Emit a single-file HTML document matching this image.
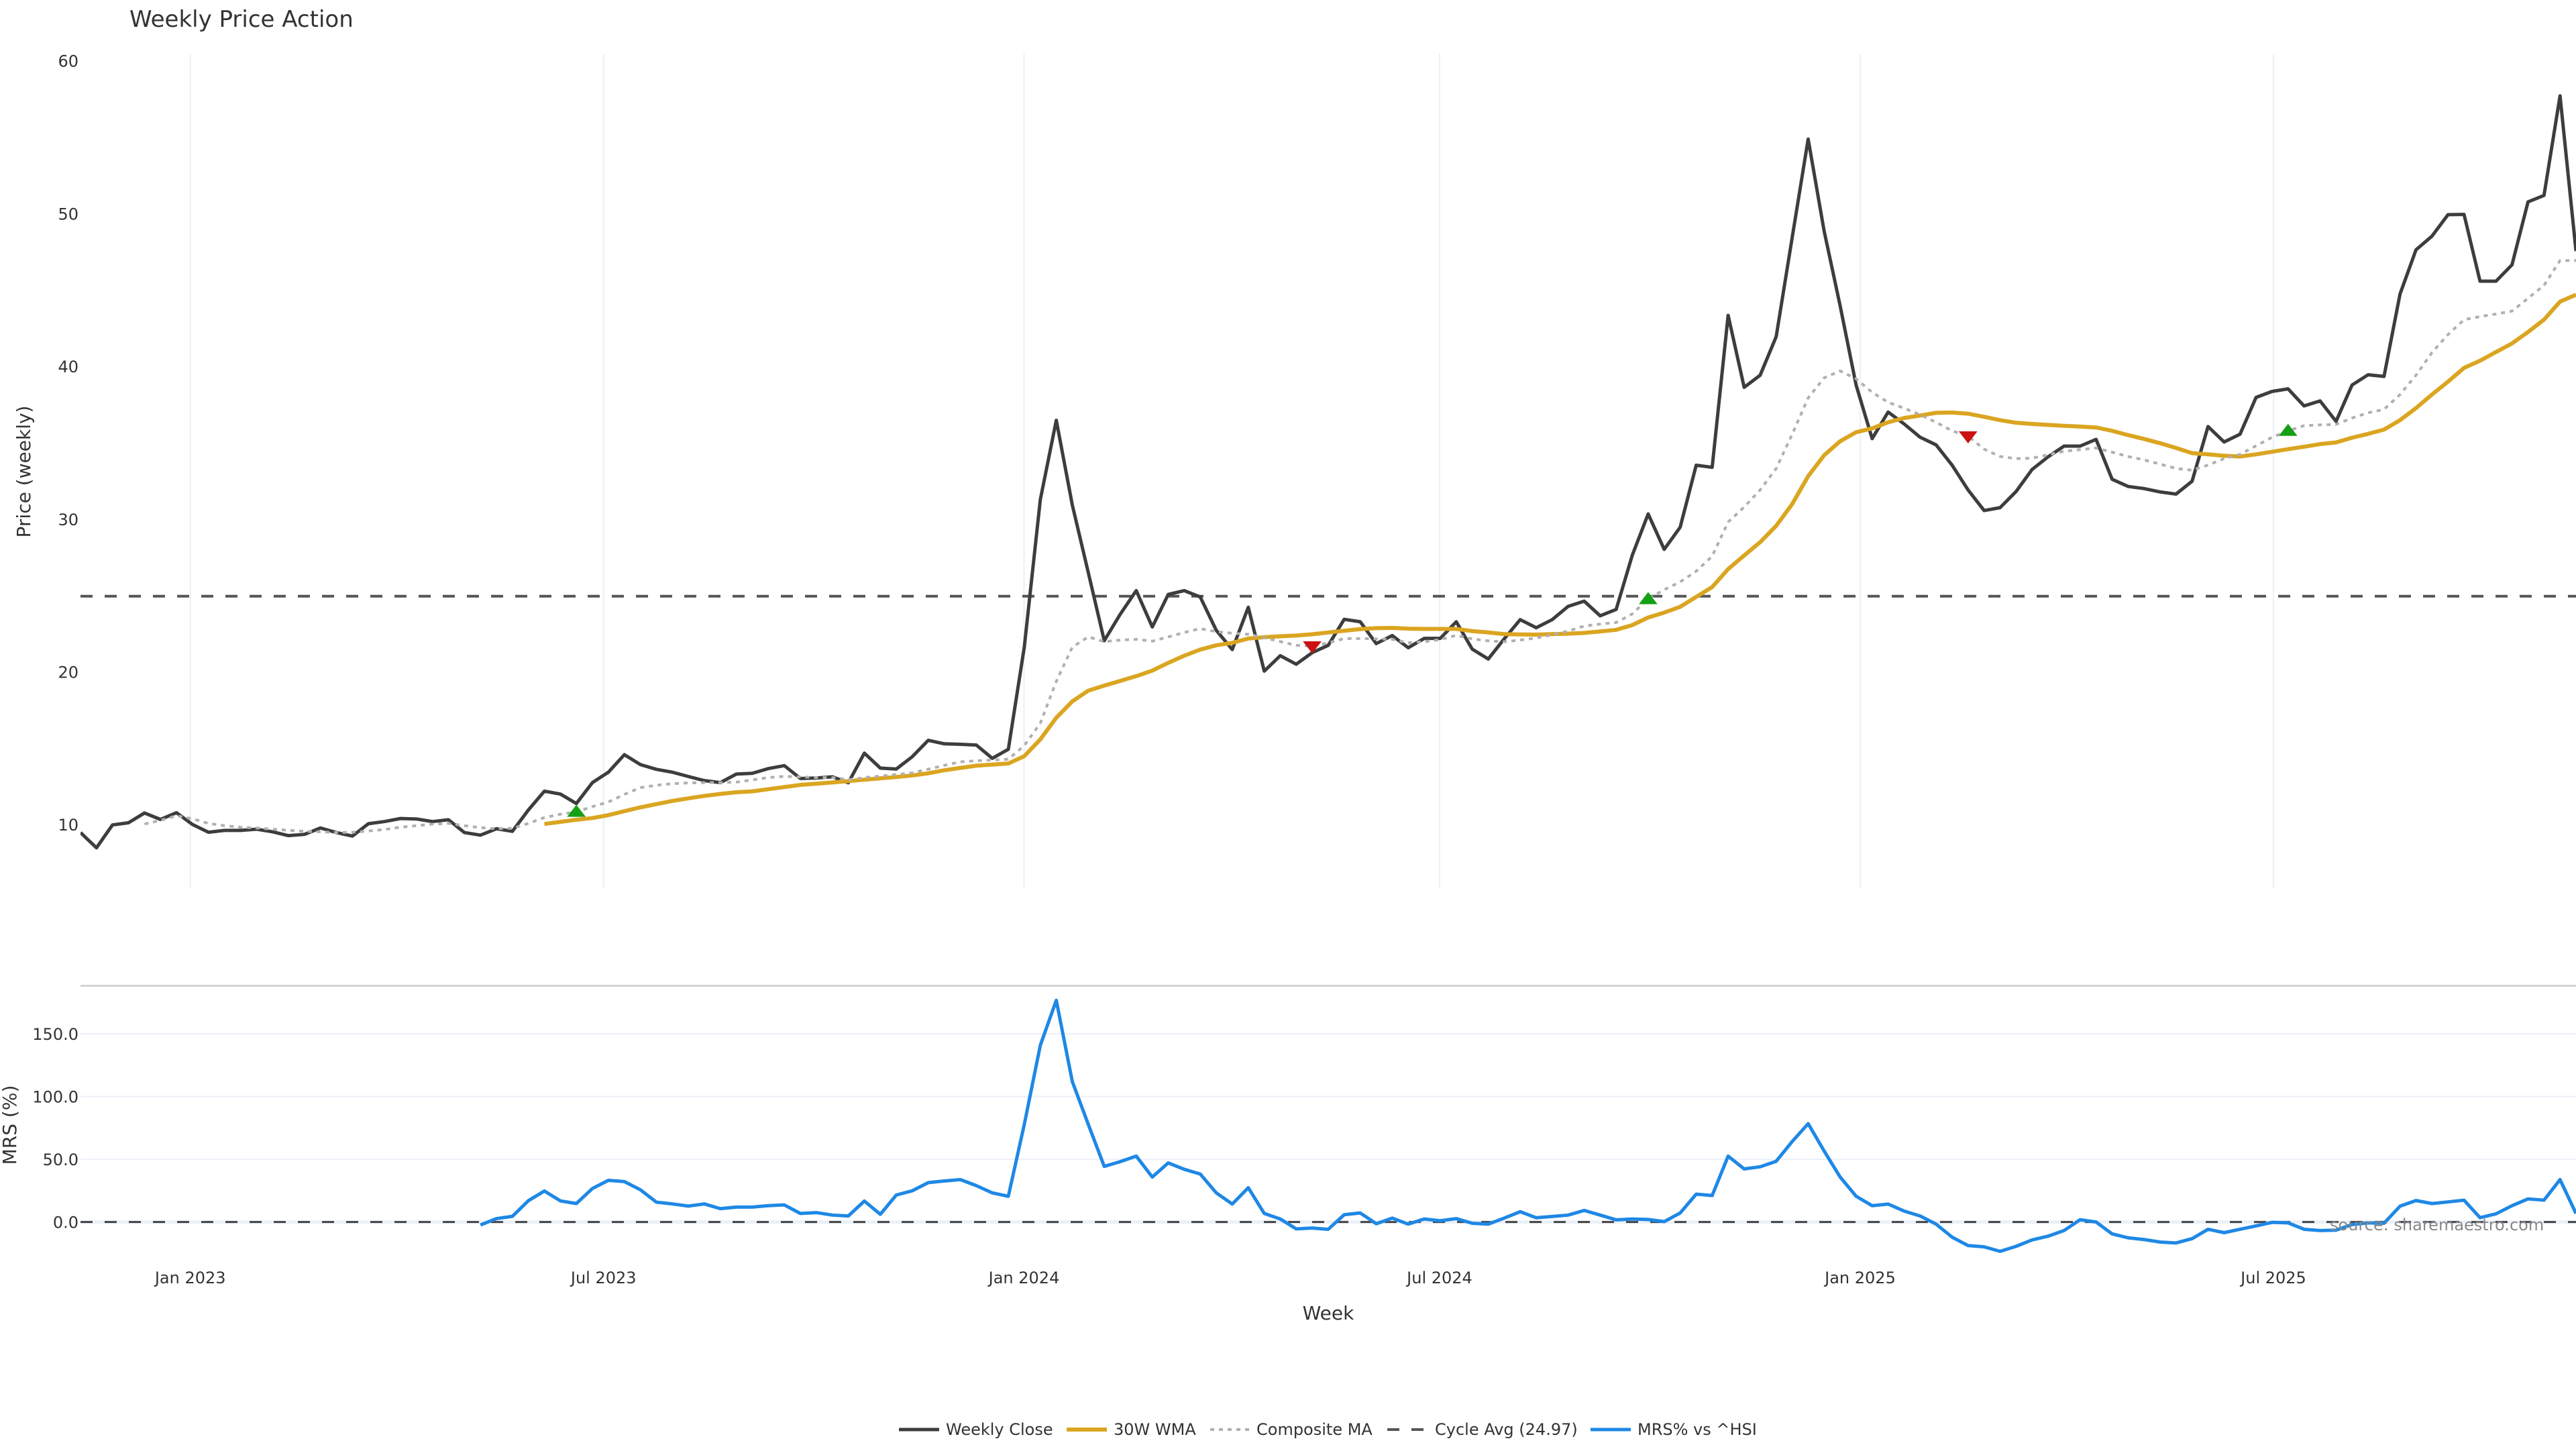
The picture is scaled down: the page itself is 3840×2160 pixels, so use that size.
<!DOCTYPE html>
<html>
<head>
<meta charset="utf-8">
<style>
html,body{margin:0;padding:0;background:#fff;}
svg{display:block;}
text{font-family:"DejaVu Sans","Liberation Sans",sans-serif;fill:#333;}
</style>
</head>
<body>
<svg width="3840" height="2160" viewBox="0 0 3840 2160" xmlns="http://www.w3.org/2000/svg">
<defs>
<clipPath id="cu"><rect x="120" y="80" width="3720" height="1244"/></clipPath>
<clipPath id="cl"><rect x="120" y="1470" width="3720" height="410"/></clipPath>
</defs>
<rect x="0" y="0" width="3840" height="2160" fill="#fff"/>

<!-- title -->
<text x="193" y="40" style="font-size:34px">Weekly Price Action</text>

<!-- upper vertical gridlines -->
<g stroke="#ebf0f8" stroke-width="2">
<line x1="283.7" y1="80" x2="283.7" y2="1324"/>
<line x1="899.7" y1="80" x2="899.7" y2="1324"/>
<line x1="1526.5" y1="80" x2="1526.5" y2="1324"/>
<line x1="2146" y1="80" x2="2146" y2="1324"/>
<line x1="2773" y1="80" x2="2773" y2="1324"/>
<line x1="3389" y1="80" x2="3389" y2="1324"/>
</g>

<!-- upper y tick labels -->
<g style="font-size:24px" text-anchor="end">
<text x="117" y="99.7">60</text>
<text x="117" y="327.4">50</text>
<text x="117" y="555.1">40</text>
<text x="117" y="782.8">30</text>
<text x="117" y="1010.5">20</text>
<text x="117" y="1238.2">10</text>
</g>
<text transform="translate(45,703) rotate(-90)" text-anchor="middle" style="font-size:28px">Price (weekly)</text>

<!-- cycle avg dashed -->
<line x1="120" y1="888.8" x2="3840" y2="888.8" stroke="#555" stroke-width="4" stroke-dasharray="18 18"/>

<g clip-path="url(#cu)" fill="none" stroke-linejoin="round">
<g transform="matrix(1 0 0 -22.77 0 1457.4)">
<!-- weekly close -->
<polyline vector-effect="non-scaling-stroke" stroke="#3d3d3d" stroke-width="5" points="120,9.5 143.8,8.5 167.7,10 191.5,10.14 215.4,10.78 239.2,10.36 263.1,10.8 286.9,10.03 310.8,9.52 334.6,9.64 358.5,9.64 382.3,9.72 406.2,9.55 430,9.3 453.8,9.38 477.7,9.8 501.5,9.5 525.4,9.27 549.2,10.08 573.1,10.22 596.9,10.42 620.8,10.39 644.6,10.22 668.5,10.34 692.3,9.5 716.2,9.33 740,9.75 763.8,9.58 787.7,10.98 811.5,12.21 835.4,12.02 859.2,11.4 883.1,12.77 906.9,13.45 930.8,14.6 954.6,13.95 978.5,13.64 1002.3,13.45 1026.1,13.17 1050,12.9 1073.8,12.77 1097.7,13.33 1121.5,13.38 1145.4,13.69 1169.2,13.88 1193.1,13.04 1216.9,13.07 1240.8,13.15 1264.6,12.76 1288.5,14.7 1312.3,13.72 1336.1,13.66 1360,14.47 1383.8,15.54 1407.7,15.31 1431.5,15.28 1455.4,15.23 1479.2,14.36 1503.1,14.95 1526.9,21.64 1550.8,31.3 1574.6,36.49 1598.5,30.94 1622.3,26.52 1646.1,22.06 1670,23.8 1693.8,25.34 1717.7,22.96 1741.5,25.09 1765.4,25.34 1789.2,24.92 1813.1,22.74 1836.9,21.48 1860.8,24.25 1884.6,20.07 1908.5,21.08 1932.3,20.52 1956.1,21.28 1980,21.76 2003.8,23.46 2027.7,23.3 2051.5,21.87 2075.4,22.4 2099.2,21.6 2123.1,22.21 2146.9,22.21 2170.8,23.3 2194.6,21.51 2218.5,20.86 2242.3,22.18 2266.1,23.44 2290,22.91 2313.8,23.44 2337.7,24.31 2361.5,24.65 2385.4,23.69 2409.2,24.11 2433.1,27.64 2456.9,30.36 2480.8,28.04 2504.6,29.49 2528.5,33.55 2552.3,33.41 2576.1,43.36 2600,38.65 2623.8,39.44 2647.7,41.96 2671.5,48.43 2695.4,54.9 2719.2,48.88 2743.1,43.98 2766.9,38.79 2790.8,35.29 2814.6,37.03 2838.5,36.25 2862.3,35.38 2886.1,34.88 2910,33.55 2933.8,31.93 2957.7,30.58 2981.5,30.77 3005.4,31.83 3029.2,33.27 3053.1,34.1 3076.9,34.8 3100.8,34.8 3124.6,35.24 3148.5,32.63 3172.3,32.16 3196.1,32.02 3220,31.8 3243.8,31.66 3267.7,32.5 3291.5,36.08 3315.4,35.07 3339.2,35.58 3363.1,37.99 3386.9,38.38 3410.8,38.55 3434.6,37.43 3458.5,37.76 3482.3,36.42 3506.2,38.8 3530,39.47 3553.8,39.36 3577.7,44.76 3601.5,47.65 3625.4,48.55 3649.2,49.95 3673.1,49.97 3696.9,45.6 3720.8,45.6 3744.6,46.67 3768.5,50.79 3792.3,51.21 3816.2,57.73 3840,47.57"/>
<!-- 30W WMA -->
<polyline vector-effect="non-scaling-stroke" stroke="#DAA520" stroke-width="6" points="811.5,10.06 835.4,10.2 859.2,10.34 883.1,10.45 906.9,10.64 930.8,10.9 954.6,11.15 978.5,11.36 1002.3,11.57 1026.1,11.74 1050,11.9 1073.8,12.03 1097.7,12.14 1121.5,12.2 1145.4,12.34 1169.2,12.48 1193.1,12.62 1216.9,12.7 1240.8,12.78 1264.6,12.87 1288.5,12.96 1312.3,13.05 1336.1,13.14 1360,13.24 1383.8,13.38 1407.7,13.58 1431.5,13.73 1455.4,13.88 1479.2,13.95 1503.1,14.02 1526.9,14.5 1550.8,15.6 1574.6,17.02 1598.5,18.09 1622.3,18.79 1646.1,19.12 1670,19.43 1693.8,19.74 1717.7,20.1 1741.5,20.61 1765.4,21.08 1789.2,21.48 1813.1,21.76 1836.9,21.92 1860.8,22.2 1884.6,22.29 1908.5,22.35 1932.3,22.4 1956.1,22.48 1980,22.6 2003.8,22.71 2027.7,22.82 2051.5,22.88 2075.4,22.9 2099.2,22.85 2123.1,22.83 2146.9,22.83 2170.8,22.83 2194.6,22.69 2218.5,22.6 2242.3,22.49 2266.1,22.47 2290,22.46 2313.8,22.49 2337.7,22.52 2361.5,22.57 2385.4,22.67 2409.2,22.77 2433.1,23.08 2456.9,23.58 2480.8,23.9 2504.6,24.28 2528.5,24.93 2552.3,25.57 2576.1,26.75 2600,27.64 2623.8,28.51 2647.7,29.58 2671.5,31 2695.4,32.83 2719.2,34.2 2743.1,35.12 2766.9,35.71 2790.8,35.96 2814.6,36.36 2838.5,36.64 2862.3,36.8 2886.1,36.98 2910,37 2933.8,36.92 2957.7,36.72 2981.5,36.5 3005.4,36.33 3029.2,36.25 3053.1,36.19 3076.9,36.13 3100.8,36.08 3124.6,36.02 3148.5,35.8 3172.3,35.52 3196.1,35.27 3220,34.99 3243.8,34.68 3267.7,34.34 3291.5,34.26 3315.4,34.17 3339.2,34.12 3363.1,34.26 3386.9,34.43 3410.8,34.6 3434.6,34.76 3458.5,34.93 3482.3,35.04 3506.2,35.35 3530,35.6 3553.8,35.88 3577.7,36.5 3601.5,37.29 3625.4,38.18 3649.2,39.02 3673.1,39.92 3696.9,40.39 3720.8,40.96 3744.6,41.52 3768.5,42.27 3792.3,43.08 3816.2,44.26 3840,44.71"/>
<!-- Composite MA -->
<polyline vector-effect="non-scaling-stroke" stroke="#b0b0b0" stroke-width="4" stroke-dasharray="6 7" points="215.4,10.06 239.2,10.3 263.1,10.6 286.9,10.4 310.8,10.1 334.6,9.95 358.5,9.85 382.3,9.8 406.2,9.72 430,9.65 453.8,9.58 477.7,9.55 501.5,9.5 525.4,9.52 549.2,9.6 573.1,9.7 596.9,9.85 620.8,9.95 644.6,10.05 668.5,10.1 692.3,9.95 716.2,9.82 740,9.75 763.8,9.78 787.7,10.1 811.5,10.48 835.4,10.7 859.2,10.85 883.1,11.2 906.9,11.5 930.8,12 954.6,12.44 978.5,12.6 1002.3,12.7 1026.1,12.75 1050,12.77 1073.8,12.77 1097.7,12.8 1121.5,12.95 1145.4,13.1 1169.2,13.18 1193.1,13.15 1216.9,13.1 1240.8,13.1 1264.6,12.96 1288.5,13.1 1312.3,13.2 1336.1,13.3 1360,13.41 1383.8,13.65 1407.7,13.9 1431.5,14.13 1455.4,14.2 1479.2,14.25 1503.1,14.3 1526.9,15.2 1550.8,16.66 1574.6,19.4 1598.5,21.64 1622.3,22.31 1646.1,22 1670,22.1 1693.8,22.15 1717.7,22.03 1741.5,22.31 1765.4,22.6 1789.2,22.85 1813.1,22.65 1836.9,22.55 1860.8,22.48 1884.6,22.26 1908.5,22 1932.3,21.76 1956.1,21.7 1980,21.92 2003.8,22.2 2027.7,22.2 2051.5,22.18 2075.4,22.15 2099.2,21.92 2123.1,22 2146.9,22.13 2170.8,22.41 2194.6,22.18 2218.5,22.05 2242.3,21.99 2266.1,22.1 2290,22.24 2313.8,22.45 2337.7,22.69 2361.5,23.02 2385.4,23.15 2409.2,23.25 2433.1,23.81 2456.9,24.8 2480.8,25.4 2504.6,25.91 2528.5,26.61 2552.3,27.59 2576.1,29.83 2600,30.81 2623.8,31.93 2647.7,33.33 2671.5,35.57 2695.4,37.95 2719.2,39.27 2743.1,39.72 2766.9,39.21 2790.8,38.32 2814.6,37.67 2838.5,37.28 2862.3,36.86 2886.1,36.36 2910,35.8 2933.8,35.45 2957.7,34.6 2981.5,34.12 3005.4,33.98 3029.2,34.01 3053.1,34.23 3076.9,34.46 3100.8,34.57 3124.6,34.68 3148.5,34.4 3172.3,34.12 3196.1,33.9 3220,33.62 3243.8,33.34 3267.7,33.22 3291.5,33.56 3315.4,33.98 3339.2,34.26 3363.1,34.82 3386.9,35.38 3410.8,35.8 3434.6,36.14 3458.5,36.19 3482.3,36.22 3506.2,36.64 3530,36.98 3553.8,37.2 3577.7,38.18 3601.5,39.44 3625.4,40.93 3649.2,42.1 3673.1,43.08 3696.9,43.28 3720.8,43.45 3744.6,43.64 3768.5,44.48 3792.3,45.32 3816.2,46.95 3840,46.95"/>
</g>
</g>

<!-- markers -->
<polygon points="845.3,1217.6 873.1,1217.6 859.2,1199.6" fill="#14a014"/>
<polygon points="1942.2,956 1970,956 1956.1,974" fill="#cc1111"/>
<polygon points="2443,900.6 2470.8,900.6 2456.9,882.6" fill="#14a014"/>
<polygon points="2919.9,643 2947.7,643 2933.8,661" fill="#cc1111"/>
<polygon points="3396.9,649.7 3424.7,649.7 3410.8,631.7" fill="#14a014"/>

<!-- separator -->
<line x1="120" y1="1469.5" x2="3840" y2="1469.5" stroke="#d4d4d4" stroke-width="3"/>

<!-- lower gridlines -->
<g stroke="#ebf0f8" stroke-width="2">
<line x1="120" y1="1541.1" x2="3840" y2="1541.1"/>
<line x1="120" y1="1634.6" x2="3840" y2="1634.6"/>
<line x1="120" y1="1728.1" x2="3840" y2="1728.1"/>
</g>
<line x1="120" y1="1821.6" x2="3840" y2="1821.6" stroke="#ebf0f8" stroke-width="5"/>
<line x1="120" y1="1821.6" x2="3840" y2="1821.6" stroke="#444" stroke-width="3" stroke-dasharray="18 18"/>

<!-- lower y ticks -->
<g style="font-size:24px" text-anchor="end">
<text x="117" y="1549.8">150.0</text>
<text x="117" y="1643.3">100.0</text>
<text x="117" y="1736.8">50.0</text>
<text x="117" y="1830.3">0.0</text>
</g>
<text transform="translate(24,1677) rotate(-90)" text-anchor="middle" style="font-size:28px">MRS (%)</text>

<!-- MRS line -->
<g clip-path="url(#cl)" fill="none" stroke-linejoin="round">
<g transform="matrix(1 0 0 -1.87 0 1821.6)">
<polyline vector-effect="non-scaling-stroke" stroke="#1E88E5" stroke-width="5" points="716.2,-2.4 740,2.7 763.8,4.5 787.7,17 811.5,24.7 835.4,16.8 859.2,14.7 883.1,26.7 906.9,33.2 930.8,32.2 954.6,25.7 978.5,15.8 1002.3,14.4 1026.1,12.7 1050,14.4 1073.8,10.6 1097.7,11.9 1121.5,11.9 1145.4,13 1169.2,13.6 1193.1,6.8 1216.9,7.5 1240.8,5.5 1264.6,4.8 1288.5,16.7 1312.3,6.1 1336.1,21.5 1360,24.9 1383.8,31.4 1407.7,32.7 1431.5,33.8 1455.4,29 1479.2,23.2 1503.1,20.5 1526.9,77.8 1550.8,140.9 1574.6,176.7 1598.5,111.9 1622.3,77.8 1646.1,44.3 1670,48.1 1693.8,52.5 1717.7,35.8 1741.5,47.1 1765.4,42 1789.2,38.2 1813.1,23.2 1836.9,14.3 1860.8,27.3 1884.6,6.8 1908.5,2.4 1932.3,-5.5 1956.1,-4.8 1980,-5.8 2003.8,5.8 2027.7,7.2 2051.5,-1.4 2075.4,3.1 2099.2,-1.7 2123.1,2.4 2146.9,1 2170.8,2.7 2194.6,-1 2218.5,-1.7 2242.3,3.1 2266.1,8.2 2290,3.4 2313.8,4.4 2337.7,5.5 2361.5,9.2 2385.4,5.5 2409.2,1.7 2433.1,2.4 2456.9,2 2480.8,0.3 2504.6,7.2 2528.5,22.2 2552.3,21.1 2576.1,52.5 2600,42.3 2623.8,44 2647.7,48.4 2671.5,64.1 2695.4,78.4 2719.2,56.6 2743.1,35.8 2766.9,20.5 2790.8,13 2814.6,14.3 2838.5,8.7 2862.3,4.8 2886.1,-1.7 2910,-12.1 2933.8,-18.8 2957.7,-19.8 2981.5,-23.4 3005.4,-19.4 3029.2,-14.3 3053.1,-11.3 3076.9,-6.8 3100.8,1.8 3124.6,0 3148.5,-9.5 3172.3,-12.6 3196.1,-14 3220,-16 3243.8,-16.7 3267.7,-13.3 3291.5,-5.8 3315.4,-8.5 3339.2,-5.8 3363.1,-3.1 3386.9,-0.3 3410.8,-0.7 3434.6,-5.8 3458.5,-6.8 3482.3,-6.5 3506.2,-2 3530,-0.7 3553.8,-1 3577.7,12.6 3601.5,17.1 3625.4,14.7 3649.2,16 3673.1,17.4 3696.9,3.4 3720.8,6.5 3744.6,13 3768.5,18.4 3792.3,17.4 3816.2,33.8 3840,6.8"/>
</g>
</g>

<!-- source -->
<text x="3473" y="1834" style="font-size:24px;fill:#888">source: sharemaestro.com</text>

<!-- x tick labels -->
<g style="font-size:24px" text-anchor="middle">
<text x="283.7" y="1913">Jan 2023</text>
<text x="899.7" y="1913">Jul 2023</text>
<text x="1526.5" y="1913">Jan 2024</text>
<text x="2146" y="1913">Jul 2024</text>
<text x="2773" y="1913">Jan 2025</text>
<text x="3389" y="1913">Jul 2025</text>
</g>
<text x="1980" y="1967" text-anchor="middle" style="font-size:28px">Week</text>

<!-- legend -->
<g>
<line x1="1340" y1="2131" x2="1400" y2="2131" stroke="#3d3d3d" stroke-width="5"/>
<text x="1410" y="2139" style="font-size:24px">Weekly Close</text>
<line x1="1590" y1="2131" x2="1650" y2="2131" stroke="#DAA520" stroke-width="6"/>
<text x="1660" y="2139" style="font-size:24px">30W WMA</text>
<line x1="1804" y1="2131" x2="1864" y2="2131" stroke="#b0b0b0" stroke-width="4" stroke-dasharray="6 7"/>
<text x="1873" y="2139" style="font-size:24px">Composite MA</text>
<line x1="2068" y1="2131" x2="2128" y2="2131" stroke="#555" stroke-width="4" stroke-dasharray="18 18"/>
<text x="2139" y="2139" style="font-size:24px">Cycle Avg (24.97)</text>
<line x1="2371" y1="2131" x2="2431" y2="2131" stroke="#1E88E5" stroke-width="5"/>
<text x="2441" y="2139" style="font-size:24px">MRS% vs ^HSI</text>
</g>
</svg>
</body>
</html>
